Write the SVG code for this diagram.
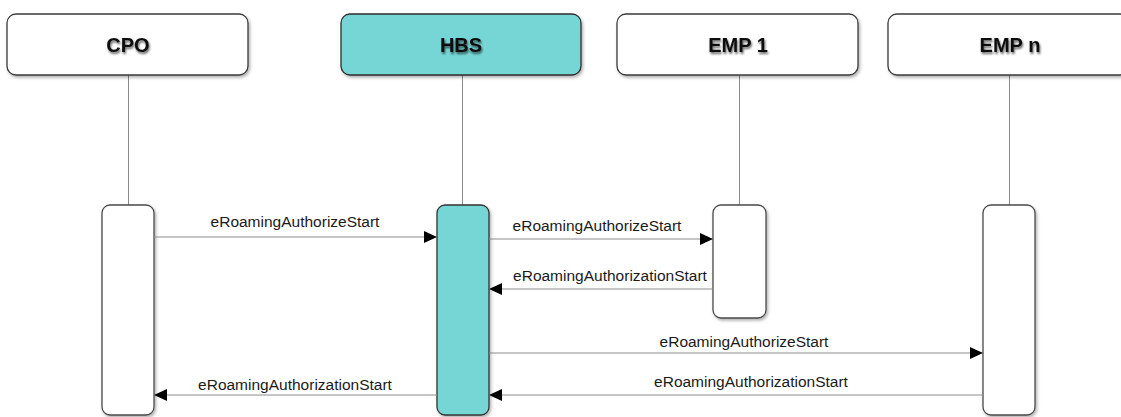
<svg xmlns="http://www.w3.org/2000/svg" width="1121" height="417" viewBox="0 0 1121 417">
<style>
.hdr{fill:#ffffff;stroke:#3a3a3a;stroke-width:1.3}
.hdr.teal{fill:#76d6d6;stroke:#2e2e2e}
.act{fill:#ffffff;stroke:#4a4a4a;stroke-width:1.3}
.act.teal{fill:#76d6d6;stroke:#333333}
.life{stroke:#8a8a8a;stroke-width:1}
.msg{stroke:#8c8c8c;stroke-width:1.2;fill:none}
.title{font-family:"Liberation Sans",Arial,sans-serif;font-weight:bold;font-size:20px;fill:#111111;text-anchor:middle}
.lbl{font-family:"Liberation Sans",Arial,sans-serif;font-size:15.5px;fill:#1a1a1a;text-anchor:middle}
</style>
<defs>
<filter id="sh" x="-10%" y="-10%" width="130%" height="140%">
<feDropShadow dx="1.5" dy="2" stdDeviation="1.5" flood-color="#000" flood-opacity="0.3"/>
</filter>
<filter id="tsh" x="-20%" y="-30%" width="140%" height="180%">
<feDropShadow dx="1" dy="2" stdDeviation="1.3" flood-color="#000" flood-opacity="0.6"/>
</filter>
<marker id="ah" markerWidth="13" markerHeight="12" refX="13" refY="6" orient="auto" markerUnits="userSpaceOnUse">
<path d="M0,0 L13,6 L0,12 Z" fill="#000"/>
</marker>
</defs>
<rect width="1121" height="417" fill="#ffffff"/>

<g id="lifelines">
<line class="life" x1="128.5" y1="75" x2="128.5" y2="205"/>
<line class="life" x1="462.5" y1="75" x2="462.5" y2="205"/>
<line class="life" x1="739.5" y1="75" x2="739.5" y2="205"/>
<line class="life" x1="1009.5" y1="75" x2="1009.5" y2="205"/>
</g>

<g id="node-cpo">
<rect class="hdr" x="7" y="14" width="241" height="61" rx="9" filter="url(#sh)"/>
<text class="title" x="128" y="52" filter="url(#tsh)">CPO</text>
</g>
<g id="node-hbs">
<rect class="hdr teal" x="341" y="14" width="240" height="61" rx="9" filter="url(#sh)"/>
<text class="title" x="461" y="52" filter="url(#tsh)">HBS</text>
</g>
<g id="node-emp1">
<rect class="hdr" x="617" y="14" width="241" height="61" rx="9" filter="url(#sh)"/>
<text class="title" x="738" y="52" filter="url(#tsh)">EMP 1</text>
</g>
<g id="node-empn">
<rect class="hdr" x="888" y="14" width="241" height="61" rx="9" filter="url(#sh)"/>
<text class="title" x="1010" y="52" filter="url(#tsh)">EMP n</text>
</g>

<g id="act-cpo"><rect class="act" x="102" y="205" width="52" height="210" rx="8" filter="url(#sh)"/></g>
<g id="act-hbs"><rect class="act teal" x="437" y="205" width="52" height="210" rx="8" filter="url(#sh)"/></g>
<g id="act-emp1"><rect class="act" x="713" y="205" width="53" height="113" rx="8" filter="url(#sh)"/></g>
<g id="act-empn"><rect class="act" x="983" y="205" width="52" height="210" rx="8" filter="url(#sh)"/></g>

<g id="connectors">
<line class="msg" x1="154" y1="237" x2="437" y2="237" marker-end="url(#ah)"/>
<text class="lbl" x="295" y="227">eRoamingAuthorizeStart</text>

<line class="msg" x1="489" y1="239" x2="713" y2="239" marker-end="url(#ah)"/>
<text class="lbl" x="597" y="231">eRoamingAuthorizeStart</text>

<line class="msg" x1="713" y1="289" x2="489" y2="289" marker-end="url(#ah)"/>
<text class="lbl" x="610" y="281">eRoamingAuthorizationStart</text>

<line class="msg" x1="489" y1="353" x2="983" y2="353" marker-end="url(#ah)"/>
<text class="lbl" x="744" y="347">eRoamingAuthorizeStart</text>

<line class="msg" x1="983" y1="395" x2="489" y2="395" marker-end="url(#ah)"/>
<text class="lbl" x="751" y="387">eRoamingAuthorizationStart</text>

<line class="msg" x1="437" y1="395" x2="154" y2="395" marker-end="url(#ah)"/>
<text class="lbl" x="295" y="390">eRoamingAuthorizationStart</text>
</g>
</svg>
